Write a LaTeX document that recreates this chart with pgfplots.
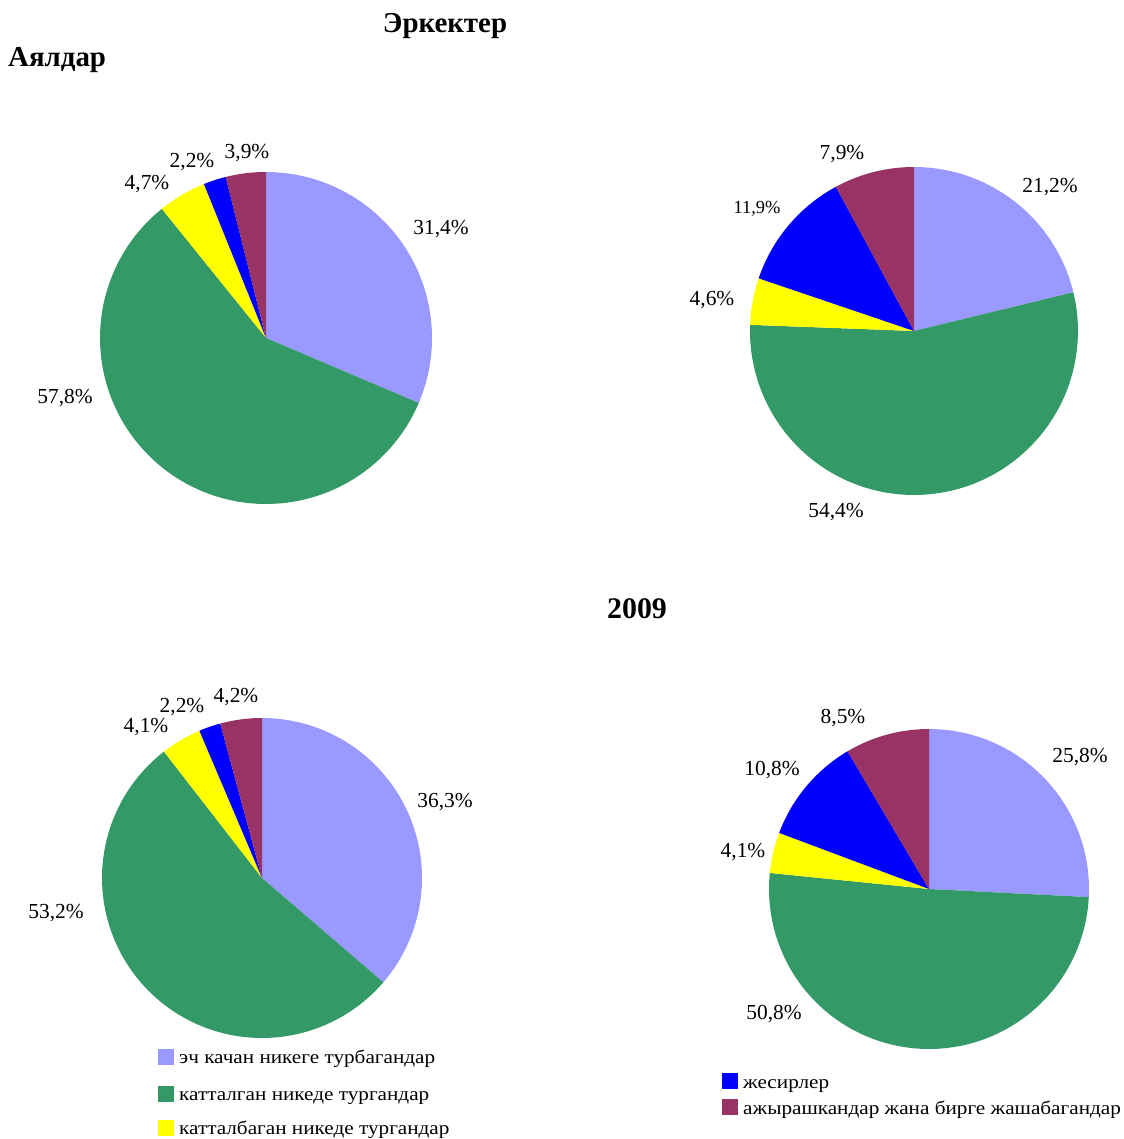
\documentclass[border=0pt]{standalone}
\usepackage{pgfplots}
\pgfplotsset{compat=1.18}
\usepackage{fontspec}
\setmainfont{Liberation Serif}
\newfontfamily\legfont[FakeStretch=1.12]{Liberation Serif}
\definecolor{cPur}{HTML}{9999FF}
\definecolor{cGrn}{HTML}{339966}
\definecolor{cYel}{HTML}{FFFF00}
\definecolor{cBlu}{HTML}{0000FF}
\definecolor{cMar}{HTML}{993366}
% slice: cx, cy, r, cumulative start %, cumulative end %, colour
\newcommand{\slice}[6]{%
  \pgfmathsetmacro{\aS}{90-3.6*(#5)}\pgfmathsetmacro{\aE}{90-3.6*(#4)}%
  \edef\temp{\noexpand\addplot[fill=#6, draw=none, domain=\aS:\aE, samples=90]
    ({#1+#3*cos(x)},{#2-#3*sin(x)}) -- (axis cs:#1,#2) -- cycle;}\temp}
% pie: cx, cy, r, five percentages
\newcommand{\pie}[8]{%
  \slice{#1}{#2}{#3}{0}{#4}{cPur}%
  \slice{#1}{#2}{#3}{#4}{#4+#5}{cGrn}%
  \slice{#1}{#2}{#3}{#4+#5}{#4+#5+#6}{cYel}%
  \slice{#1}{#2}{#3}{#4+#5+#6}{#4+#5+#6+#7}{cBlu}%
  \slice{#1}{#2}{#3}{#4+#5+#6+#7}{100}{cMar}}
\begin{document}
\begin{tikzpicture}
\begin{axis}[hide axis, scale only axis, width=1124bp, height=1139bp,
  xmin=0, xmax=1124, ymin=0, ymax=1139, y dir=reverse, clip=false]
\path (axis cs:0,0) rectangle (axis cs:1124,1139);
% Pies (values in %)
\pie{266}{338}{166}{31.4}{57.8}{4.7}{2.2}{3.9}
\pie{914}{331}{164}{21.2}{54.4}{4.6}{11.9}{7.9}
\pie{262}{878}{160}{36.3}{53.2}{4.1}{2.2}{4.2}
\pie{929}{889}{160}{25.8}{50.8}{4.1}{10.8}{8.5}
% legend squares
\addplot[only marks, mark=square*, mark size=7.5bp, cPur] coordinates {(165.5,1056.5)};
\addplot[only marks, mark=square*, mark size=7.5bp, cGrn] coordinates {(165.5,1094)};
\addplot[only marks, mark=square*, mark size=7.5bp, cYel] coordinates {(165.5,1128)};
\addplot[only marks, mark=square*, mark size=7.5bp, cBlu] coordinates {(729.5,1080.5)};
\addplot[only marks, mark=square*, mark size=7.5bp, cMar] coordinates {(729.5,1106.5)};
% titles
\node[anchor=base, font=\fontsize{29}{34}\selectfont\bfseries] at (axis cs:445,33) {Эркектер};
\node[anchor=base west, inner sep=0pt, font=\fontsize{29}{34}\selectfont\bfseries] at (axis cs:8,67) {Аялдар};
\node[anchor=base, font=\fontsize{30}{34}\selectfont\bfseries] at (axis cs:637,618) {2009};
% labels
\tikzset{lab/.style={anchor=base, inner sep=0pt, font=\fontsize{21.5}{24}\selectfont}}
\node[lab] at (axis cs:441,234) {31,4\%};
\node[lab] at (axis cs:65,403) {57,8\%};
\node[lab] at (axis cs:147,190) {4,7\%};
\node[lab] at (axis cs:192,168) {2,2\%};
\node[lab] at (axis cs:247,159) {3,9\%};
\node[lab] at (axis cs:1050,193) {21,2\%};
\node[lab] at (axis cs:836,517) {54,4\%};
\node[lab] at (axis cs:712,305) {4,6\%};
\node[lab, font=\fontsize{18.5}{20}\selectfont] at (axis cs:757,213) {11,9\%};
\node[lab] at (axis cs:842,160) {7,9\%};
\node[lab] at (axis cs:445,807) {36,3\%};
\node[lab] at (axis cs:56,918) {53,2\%};
\node[lab] at (axis cs:146,732) {4,1\%};
\node[lab] at (axis cs:182,712) {2,2\%};
\node[lab] at (axis cs:236,702) {4,2\%};
\node[lab] at (axis cs:1080,762) {25,8\%};
\node[lab] at (axis cs:774,1019) {50,8\%};
\node[lab] at (axis cs:743,857) {4,1\%};
\node[lab] at (axis cs:772,775) {10,8\%};
\node[lab] at (axis cs:843,723) {8,5\%};
% legend texts
\tikzset{leg/.style={anchor=base west, inner sep=0pt, font=\fontsize{19}{21}\legfont}}
\node[leg] at (axis cs:179,1063) {эч качан никеге турбагандар};
\node[leg] at (axis cs:179,1100) {катталган никеде тургандар};
\node[leg] at (axis cs:179,1134) {катталбаган никеде тургандар};
\node[leg] at (axis cs:743,1088) {жесирлер};
\node[leg] at (axis cs:743,1114) {ажырашкандар жана бирге жашабагандар};
\end{axis}
\end{tikzpicture}
\end{document}
